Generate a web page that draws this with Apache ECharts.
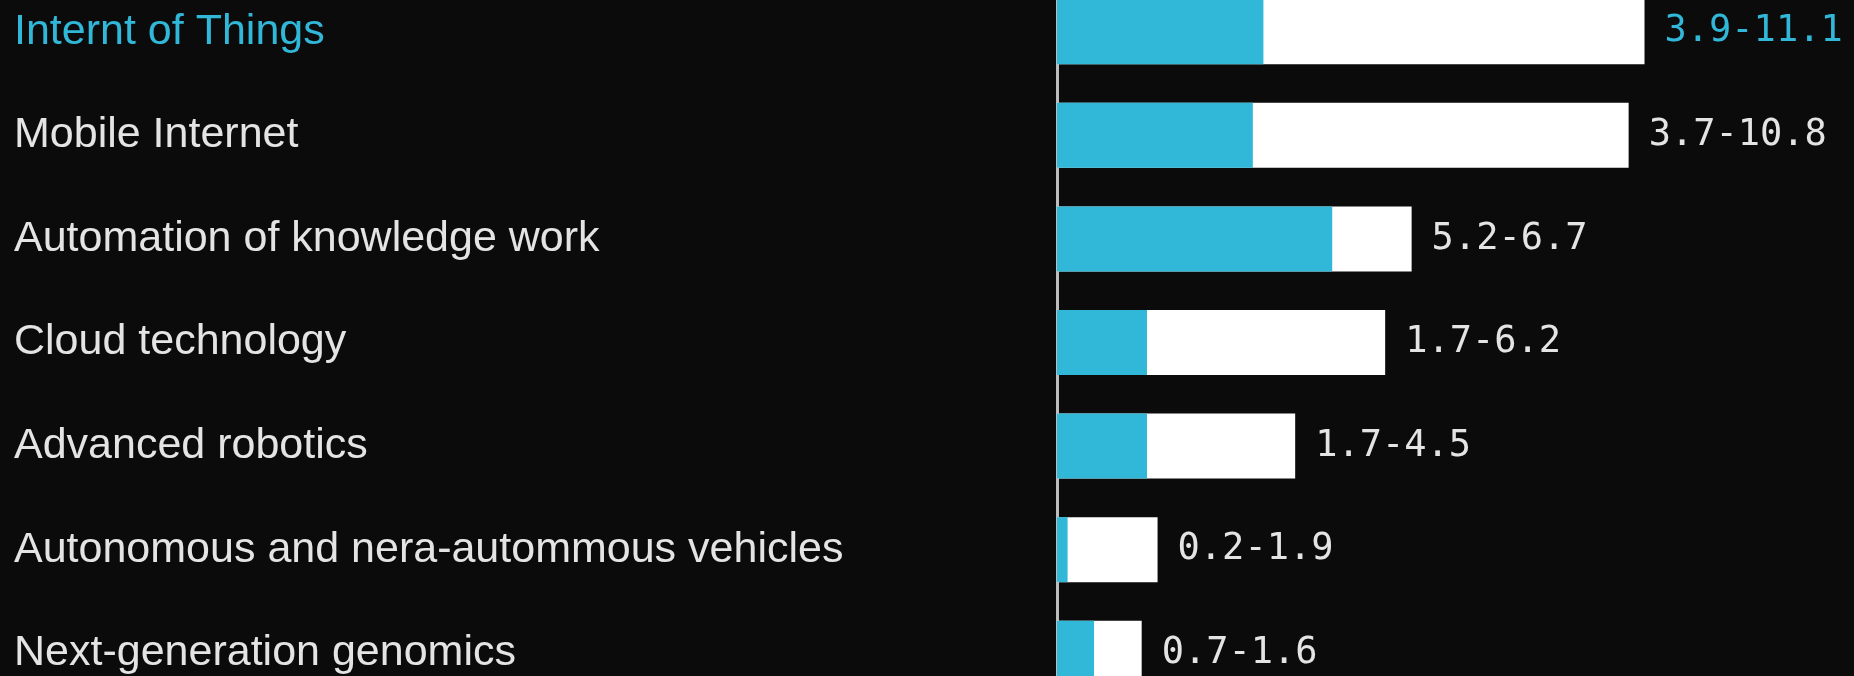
<!DOCTYPE html>
<html>
<head>
<meta charset="utf-8">
<script src="https://cdn.jsdelivr.net/npm/echarts@6/dist/echarts.min.js"></script>
<style>
  html, body { margin: 0; padding: 0; background: #0b0b0b; overflow: hidden; }
  /* chart box runs past the window so the first and last rows are cut like in the original */
  #chart { position: absolute; left: 0; top: -20px; width: 1854px; height: 725px; }
</style>
</head>
<body>
<div id="chart"></div>
<script>
const categories = [
  "Internt of Things",
  "Mobile Internet",
  "Automation of knowledge work",
  "Cloud technology",
  "Advanced robotics",
  "Autonomous and nera-autommous vehicles",
  "Next-generation genomics",
];
const lowValues = [3.9, 3.7, 5.2, 1.7, 1.7, 0.2, 0.7];
const highValues = [11.1, 10.8, 6.7, 6.2, 4.5, 1.9, 1.6];
const highlightIndex = 0;

const BLUE = "#31b7d8";
const TEXT = "#e4e4e4";

const chart = echarts.init(document.getElementById("chart"));

chart.setOption({
  animation: false,
  backgroundColor: "#0b0b0b",
  grid: { left: 1057, right: 56, top: 0, bottom: 0 },
  xAxis: {
    type: "value",
    min: 0,
    max: 14,
    show: false,
  },
  yAxis: {
    type: "category",
    inverse: true,
    data: categories,
    offset: 2,
    axisLine: { show: true, lineStyle: { color: "#bdbdbd", width: 3 } },
    axisTick: { show: false },
    axisLabel: {
      align: "left",
      margin: 1041,
      fontFamily: "Liberation Sans",
      fontSize: 43,
      padding: [0, 0, 6, 0],
      color: (value, index) => (index === highlightIndex ? BLUE : TEXT),
    },
  },
  series: [
    {
      name: "high",
      type: "bar",
      barWidth: 65,
      barGap: "-100%",
      itemStyle: { color: "#ffffff" },
      data: highValues.map((v, i) => ({
        value: v,
        label: { color: i === highlightIndex ? BLUE : TEXT },
      })),
      label: {
        show: true,
        position: "right",
        distance: 20,
        fontFamily: "DejaVu Sans Mono",
        fontSize: 37,
        formatter: (p) => `${lowValues[p.dataIndex]}-${highValues[p.dataIndex]}`,
      },
    },
    {
      name: "low",
      type: "bar",
      barWidth: 65,
      itemStyle: { color: BLUE },
      data: lowValues,
    },
  ],
});
</script>
</body>
</html>
